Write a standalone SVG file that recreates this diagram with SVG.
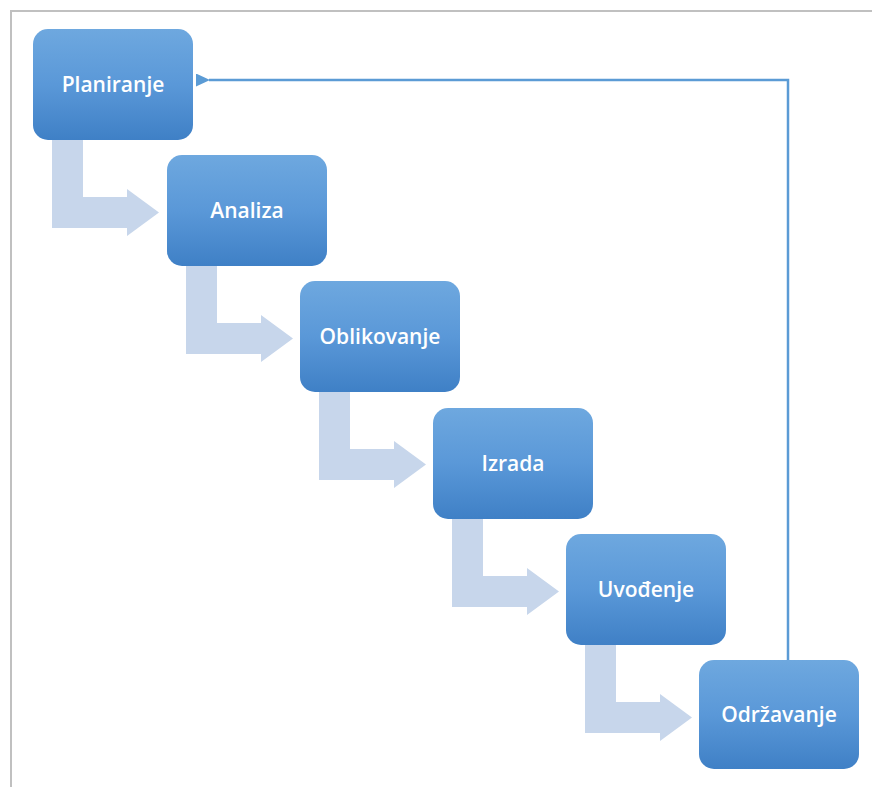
<svg xmlns="http://www.w3.org/2000/svg" width="872" height="787" viewBox="0 0 872 787">
  <defs>
    <linearGradient id="boxFill" x1="0" y1="0" x2="0" y2="1">
      <stop offset="0" stop-color="#6ea8df"/>
      <stop offset="0.5" stop-color="#5a98d8"/>
      <stop offset="1" stop-color="#3f80c6"/>
    </linearGradient>
    <!-- bent step arrow, drawn relative to the top-left corner of the source box -->
    <path id="stepArrow" d="M19 111 L50 111 L50 168 L94 168 L94 160 L126 183.5 L94 207 L94 199 L19 199 Z"/>
    <marker id="head" viewBox="0 0 14 13" refX="1" refY="6.5" markerWidth="14" markerHeight="13" markerUnits="userSpaceOnUse" orient="auto-start-reverse">
      <path d="M0 6.5 L14 0 L14 13 Z" fill="#5b9bd5"/>
    </marker>
  </defs>
  <style>
    .frame { fill: none; stroke: #c0c0c0; stroke-width: 2; }
    .box { fill: url(#boxFill); }
    .label { fill: #ffffff; font-family: "Open Sans", "Liberation Sans", sans-serif; font-size: 21px; font-weight: 600; text-anchor: middle; }
    .step { fill: #c7d6eb; }
    .loop { fill: none; stroke: #5b9bd5; stroke-width: 2.5; }
  </style>

  <rect width="872" height="787" fill="#ffffff"/>
  <path class="frame" d="M11 787 L11 11 L872 11"/>

  <g id="connectors">
    <use href="#stepArrow" class="step" transform="translate(33,29)"/>
    <use href="#stepArrow" class="step" transform="translate(167,155)"/>
    <use href="#stepArrow" class="step" transform="translate(300,281)"/>
    <use href="#stepArrow" class="step" transform="translate(433,408)"/>
    <use href="#stepArrow" class="step" transform="translate(566,534)"/>
    <path class="loop" d="M788 660 L788 80 L209 80" marker-end="url(#head)"/>
  </g>

  <g id="planiranje">
    <rect class="box" x="33" y="29" width="160" height="111" rx="15"/>
    <text class="label" x="113" y="92">Planiranje</text>
  </g>
  <g id="analiza">
    <rect class="box" x="167" y="155" width="160" height="111" rx="15"/>
    <text class="label" x="247" y="218">Analiza</text>
  </g>
  <g id="oblikovanje">
    <rect class="box" x="300" y="281" width="160" height="111" rx="15"/>
    <text class="label" x="380" y="344">Oblikovanje</text>
  </g>
  <g id="izrada">
    <rect class="box" x="433" y="408" width="160" height="111" rx="15"/>
    <text class="label" x="513" y="471">Izrada</text>
  </g>
  <g id="uvodjenje">
    <rect class="box" x="566" y="534" width="160" height="111" rx="15"/>
    <text class="label" x="646" y="597">Uvođenje</text>
  </g>
  <g id="odrzavanje">
    <rect class="box" x="699" y="660" width="160" height="109" rx="15"/>
    <text class="label" x="779" y="722">Održavanje</text>
  </g>
</svg>
